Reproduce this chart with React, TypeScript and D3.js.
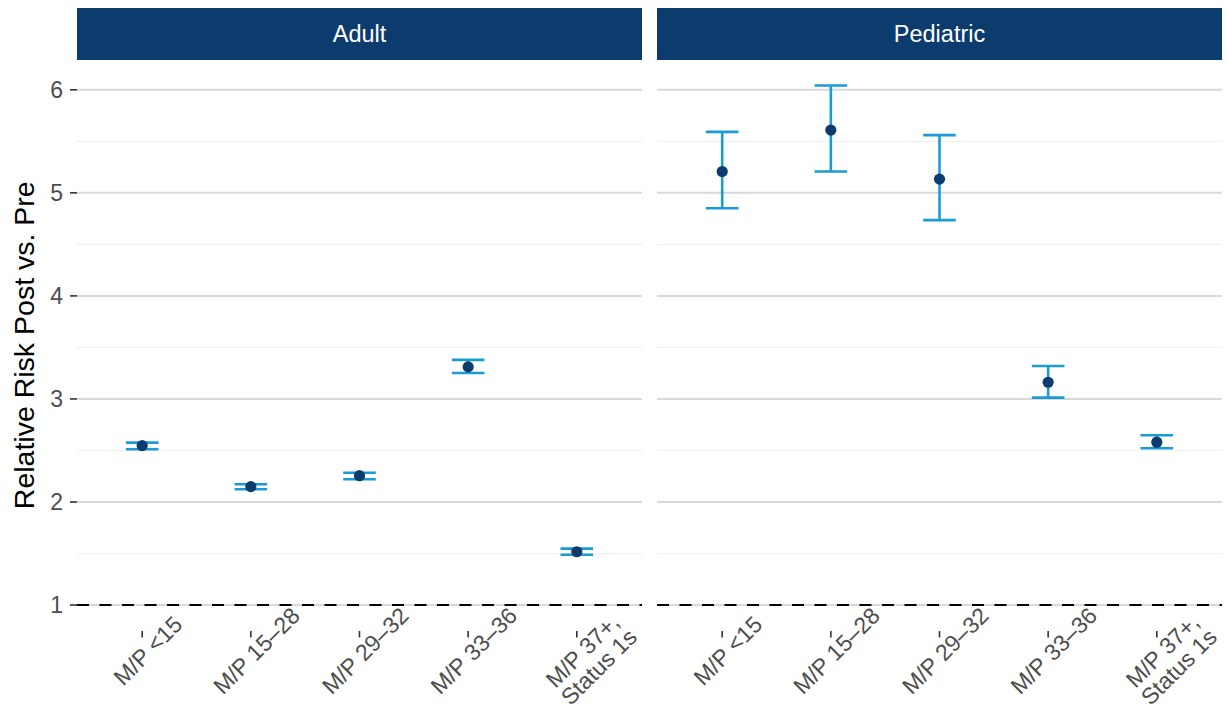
import { useRef, useEffect } from 'react'
import * as d3 from 'd3'

// facets
const panels = ['Adult', 'Pediatric']

// x categories (second line after \n)
const categories = ['M/P <15', 'M/P 15–28', 'M/P 29–32', 'M/P 33–36', 'M/P 37+,\nStatus 1s']

// relative risk estimates and 95% CI
const adultEstimate = [2.547, 2.149, 2.255, 3.311, 1.517]
const adultLower = [2.512, 2.123, 2.22, 3.252, 1.488]
const adultUpper = [2.576, 2.172, 2.284, 3.379, 1.547]

const pediatricEstimate = [5.207, 5.609, 5.133, 3.162, 2.58]
const pediatricLower = [4.851, 5.207, 4.735, 3.013, 2.521]
const pediatricUpper = [5.592, 6.042, 5.56, 3.32, 2.648]

const yTicks = [1, 2, 3, 4, 5, 6]
const yMinorTicks = [1.5, 2.5, 3.5, 4.5, 5.5]
const referenceLine = 1

const yTitle = 'Relative Risk Post vs. Pre'

const FONT = '"Liberation Sans", Arial, Helvetica, sans-serif'

export default function App() {
  const svgRef = useRef<SVGSVGElement>(null)

  useEffect(() => {
    if (!svgRef.current) return
    const svg = d3.select(svgRef.current)
    svg.selectAll('*').remove()

    const W = 1228
    const H = 709
    svg.attr('width', W).attr('height', H).style('font-family', FONT)

    // layout
    const panelX = [77, 657]
    const panelW = 565
    const stripTop = 8
    const stripBottom = 60
    const plotTop = 59.5
    const plotBottom = 631

    const series = [
      { est: adultEstimate, lo: adultLower, hi: adultUpper },
      { est: pediatricEstimate, lo: pediatricLower, hi: pediatricUpper },
    ]

    // shared y scale, ggplot-style 5% expansion (hline trains the scale too)
    const allLo = d3.min([...adultLower, ...pediatricLower, referenceLine]) as number
    const allHi = d3.max([...adultUpper, ...pediatricUpper, referenceLine]) as number
    const pad = (allHi - allLo) * 0.05
    const y = d3
      .scaleLinear()
      .domain([allLo - pad, allHi + pad])
      .range([plotBottom, plotTop])

    panels.forEach((name, pi) => {
      const x0 = panelX[pi]
      const x = d3
        .scalePoint<string>()
        .domain(categories)
        .range([x0, x0 + panelW])
        .padding(0.6)
      const capHalf = x.step() * 0.15

      const g = svg.append('g')

      // strip
      g.append('rect')
        .attr('x', x0)
        .attr('y', stripTop)
        .attr('width', panelW)
        .attr('height', stripBottom - stripTop)
        .attr('fill', '#0c3c6e')
      g.append('text')
        .attr('x', x0 + panelW / 2)
        .attr('y', (stripTop + stripBottom) / 2)
        .attr('dy', '0.35em')
        .attr('text-anchor', 'middle')
        .attr('fill', '#ffffff')
        .style('font-size', '23.5px')
        .text(name)

      // grid
      g.selectAll('.minor')
        .data(yMinorTicks)
        .join('line')
        .attr('x1', x0)
        .attr('x2', x0 + panelW)
        .attr('y1', (d) => y(d))
        .attr('y2', (d) => y(d))
        .attr('stroke', '#f0f0f0')
        .attr('stroke-width', 1.1)
      g.selectAll('.major')
        .data(yTicks)
        .join('line')
        .attr('x1', x0)
        .attr('x2', x0 + panelW)
        .attr('y1', (d) => y(d))
        .attr('y2', (d) => y(d))
        .attr('stroke', '#d9d9d9')
        .attr('stroke-width', 2)

      // reference line
      g.append('line')
        .attr('x1', x0)
        .attr('x2', x0 + panelW)
        .attr('y1', y(referenceLine))
        .attr('y2', y(referenceLine))
        .attr('stroke', '#000000')
        .attr('stroke-width', 2.2)
        .attr('stroke-dasharray', '12 10.5')

      // error bars
      const s = series[pi]
      const idx = d3.range(categories.length)
      const eb = g.append('g').attr('stroke', '#1a9bd7').attr('stroke-width', 2.6).attr('fill', 'none')
      eb.selectAll('.v')
        .data(idx)
        .join('line')
        .attr('x1', (i) => x(categories[i]) as number)
        .attr('x2', (i) => x(categories[i]) as number)
        .attr('y1', (i) => y(s.lo[i]))
        .attr('y2', (i) => y(s.hi[i]))
      eb.selectAll('.capHi')
        .data(idx)
        .join('line')
        .attr('x1', (i) => (x(categories[i]) as number) - capHalf)
        .attr('x2', (i) => (x(categories[i]) as number) + capHalf)
        .attr('y1', (i) => y(s.hi[i]))
        .attr('y2', (i) => y(s.hi[i]))
      eb.selectAll('.capLo')
        .data(idx)
        .join('line')
        .attr('x1', (i) => (x(categories[i]) as number) - capHalf)
        .attr('x2', (i) => (x(categories[i]) as number) + capHalf)
        .attr('y1', (i) => y(s.lo[i]))
        .attr('y2', (i) => y(s.lo[i]))

      // points
      g.selectAll('.pt')
        .data(idx)
        .join('circle')
        .attr('cx', (i) => x(categories[i]) as number)
        .attr('cy', (i) => y(s.est[i]))
        .attr('r', 5.6)
        .attr('fill', '#0c3c6e')

      // x ticks
      g.selectAll('.xt')
        .data(categories)
        .join('line')
        .attr('x1', (d) => x(d) as number)
        .attr('x2', (d) => x(d) as number)
        .attr('y1', plotBottom)
        .attr('y2', plotBottom + 6.5)
        .attr('stroke', '#333333')
        .attr('stroke-width', 1.6)

      // x labels, rotated 45
      const lab = g
        .selectAll('.xl')
        .data(categories)
        .join('g')
        .attr('transform', (d) => `translate(${x(d)},${plotBottom + 14}) rotate(-45)`)
      lab
        .append('text')
        .attr('text-anchor', 'middle')
        .attr('fill', '#4d4d4d')
        .style('font-size', '23px')
        .selectAll('tspan')
        .data((d) => d.split('\n'))
        .join('tspan')
        .attr('x', 0)
        .attr('y', (_, i) => 16 + i * 23)
        .text((d) => d)

      // y axis only on first panel
      if (pi === 0) {
        g.selectAll('.yt')
          .data(yTicks)
          .join('line')
          .attr('x1', x0 - 7)
          .attr('x2', x0)
          .attr('y1', (d) => y(d))
          .attr('y2', (d) => y(d))
          .attr('stroke', '#333333')
          .attr('stroke-width', 1.6)
        g.selectAll('.yl')
          .data(yTicks)
          .join('text')
          .attr('x', x0 - 14)
          .attr('y', (d) => y(d))
          .attr('dy', '0.35em')
          .attr('text-anchor', 'end')
          .attr('fill', '#4d4d4d')
          .style('font-size', '23px')
          .text((d) => d)
      }
    })

    // y axis title
    svg
      .append('text')
      .attr('transform', `translate(34,${(plotTop + plotBottom) / 2}) rotate(-90)`)
      .attr('text-anchor', 'middle')
      .attr('fill', '#000000')
      .style('font-size', '28.5px')
      .text(yTitle)
  }, [])

  return (
    <div>
      <style>{'body{margin:0}'}</style>
      <svg ref={svgRef} width={1228} height={709} />
    </div>
  )
}
